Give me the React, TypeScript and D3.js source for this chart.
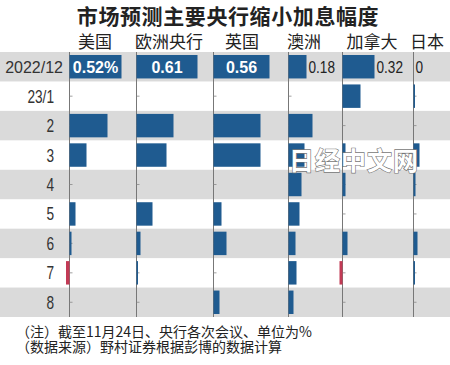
import { useRef, useEffect } from 'react';
import * as d3 from 'd3';

// Data (percentage points)
const countries = ['美国', '欧洲央行', '英国', '澳洲', '加拿大', '日本'];
const periods = ['2022/12', '23/1', '2', '3', '4', '5', '6', '7', '8'];
const totalHike = [0.52, 0.61, 0.56, 0.18, 0.32, 0];
const totalLabels = ['0.52%', '0.61', '0.56', '0.18', '0.32', '0'];

// monthly increments, 23/1 .. 8
const usHike = [0, 0.38, 0.17, 0, 0.06, 0.02, -0.035, 0];
const ecbHike = [0, 0.37, 0.3, 0, 0.16, 0.04, 0.015, 0];
const ukHike = [0, 0.47, 0.47, 0, 0.08, 0.13, 0, 0.06];
const ausHike = [0, 0.24, 0.16, 0.13, 0.11, 0.07, 0.08, 0.05];
const canHike = [0.18, 0, 0.03, 0.03, 0, 0.05, -0.03, 0];
const jpnHike = [0.015, 0, 0.06, 0.02, 0, 0.04, 0.015, 0];

const monthly = [usHike, ecbHike, ukHike, ausHike, canHike, jpnHike];

const title = '市场预测主要央行缩小加息幅度';
const noteLines = [
  '（注）截至11月24日、央行各次会议、单位为%',
  '（数据来源）野村证券根据彭博的数据计算',
];

const WIDTH = 450;
const HEIGHT = 365;
const CJK = "'Noto Sans CJK SC', sans-serif";
const SANS = "'Liberation Sans', Arial, sans-serif";
const BLUE = '#1f5b90';
const RED = '#c23a55';
const BAND = '#dadada';
const NARROW = 0.8; // horizontal squeeze to mimic the condensed numerals

// axis position (x of zero) and header centre per column
const axisX = [69.5, 136.5, 213.5, 288.5, 342.5, 413.5];
const headerX = [95, 169, 242, 304, 372, 427];

export default function App(): JSX.Element {
  const svgRef = useRef<SVGSVGElement | null>(null);

  useEffect(() => {
    if (!svgRef.current) return;
    const svg = d3.select(svgRef.current);
    svg.selectAll('*').remove();

    const y = d3.scaleBand<string>().domain(periods).range([52, 317]).padding(0);
    const x = d3.scaleLinear().domain([0, 1]).range([0, 100]);
    const bh = y.bandwidth();

    svg.append('rect').attr('width', WIDTH).attr('height', HEIGHT).attr('fill', '#fff');

    // Title
    svg.append('text')
      .attr('x', 228).attr('y', 24)
      .attr('text-anchor', 'middle')
      .attr('font-family', CJK).attr('font-weight', 700).attr('font-size', 21)
      .attr('letter-spacing', 0.6)
      .attr('fill', '#222')
      .text(title);

    // Column headers
    svg.selectAll('text.hdr')
      .data(countries)
      .join('text')
      .attr('class', 'hdr')
      .attr('x', (_, i) => headerX[i]).attr('y', 47.5)
      .attr('text-anchor', 'middle')
      .attr('font-family', CJK).attr('font-size', 17)
      .attr('fill', '#222')
      .text(d => d);

    // Alternating row bands
    svg.selectAll('rect.band')
      .data(periods.filter((_, i) => i % 2 === 0))
      .join('rect')
      .attr('class', 'band')
      .attr('x', 0).attr('width', WIDTH)
      .attr('y', d => y(d)!).attr('height', bh)
      .attr('fill', BAND);

    // Row labels
    svg.selectAll('text.row')
      .data(periods)
      .join('text')
      .attr('class', 'row')
      .attr('transform', (d, i) => i === 0
        ? `translate(63,${y(d)! + bh / 2 + 6})`
        : `translate(54,${y(d)! + bh / 2 + 6.5}) scale(${NARROW * 0.95},1)`)
      .attr('text-anchor', 'end')
      .attr('font-family', SANS)
      .attr('font-size', (_, i) => (i === 0 ? 16 : 18))
      .attr('fill', '#333')
      .text(d => d);

    countries.forEach((c, ci) => {
      const g = svg.append('g').attr('transform', `translate(${axisX[ci]},0)`);

      // axis line
      g.append('line')
        .attr('x1', 0).attr('x2', 0)
        .attr('y1', 52).attr('y2', 317)
        .attr('stroke', '#777').attr('stroke-width', 1);

      // small ticks at every row centre
      g.selectAll('line.tick')
        .data(periods.slice(1))
        .join('line')
        .attr('class', 'tick')
        .attr('x1', 0).attr('x2', 3)
        .attr('y1', d => y(d)! + bh / 2).attr('y2', d => y(d)! + bh / 2)
        .attr('stroke', '#888').attr('stroke-width', 0.8);

      // cumulative bar (first row)
      const v0 = totalHike[ci];
      const y0 = y(periods[0])!;
      if (v0 > 0) {
        g.append('rect')
          .attr('x', 0).attr('y', y0 + 3)
          .attr('width', x(v0)).attr('height', bh - 6)
          .attr('fill', BLUE);
      }
      const inside = v0 >= 0.4;
      const ty = y0 + bh / 2 + 6;
      g.append('text')
        .attr('transform', inside
          ? `translate(${x(v0) / 2},${ty})`
          : `translate(${x(v0) + 2},${ty}) scale(${NARROW},1)`)
        .attr('text-anchor', inside ? 'middle' : 'start')
        .attr('font-family', SANS)
        .attr('font-weight', inside ? 700 : 400)
        .attr('font-size', inside ? 16 : 17)
        .attr('fill', inside ? '#fff' : '#222')
        .text(totalLabels[ci]);

      // monthly bars
      g.selectAll('rect.m')
        .data(monthly[ci].map((v, i) => ({ v, p: periods[i + 1] })).filter(d => d.v !== 0))
        .join('rect')
        .attr('class', 'm')
        .attr('x', d => Math.min(x(0), x(d.v)))
        .attr('y', d => y(d.p)! + 3)
        .attr('width', d => Math.abs(x(d.v) - x(0)))
        .attr('height', bh - 6)
        .attr('fill', d => (d.v < 0 ? RED : BLUE));
    });

    // Watermark
    svg.append('text')
      .attr('x', 289).attr('y', 170)
      .attr('font-family', CJK).attr('font-weight', 700).attr('font-size', 25)
      .attr('letter-spacing', 1)
      .attr('fill', '#fff').attr('stroke', '#777').attr('stroke-width', 1.3)
      .attr('paint-order', 'stroke')
      .text('日经中文网');

    // Notes
    svg.selectAll('text.note')
      .data(noteLines)
      .join('text')
      .attr('class', 'note')
      .attr('x', 16)
      .attr('y', (_, i) => 337 + i * 15)
      .attr('font-family', CJK).attr('font-size', 14)
      .attr('fill', '#222')
      .text(d => d);
  }, []);

  return (
    <svg
      ref={svgRef}
      width={WIDTH}
      height={HEIGHT}
      style={{ position: 'absolute', left: 0, top: 0 }}
    />
  );
}
